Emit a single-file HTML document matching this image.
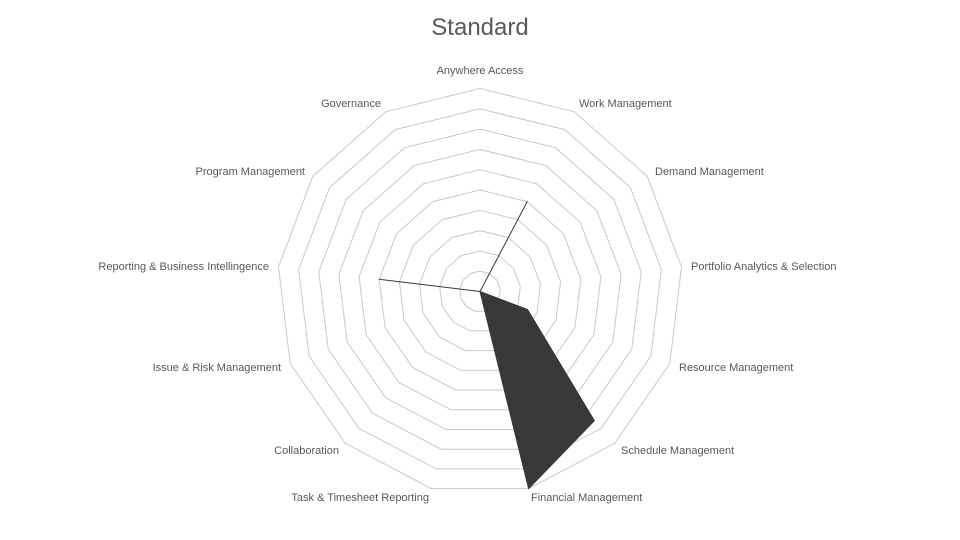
<!DOCTYPE html>
<html><head><meta charset="utf-8"><style>
html,body{margin:0;padding:0;background:#fff;}
svg{display:block;font-family:"Liberation Sans",sans-serif;}
text{fill:#595959;font-size:11px;}
</style></head><body>
<svg id="s" width="960" height="540" viewBox="0 0 960 540">
<text x="480" y="35" text-anchor="middle" style="font-size:24px;fill:#595959">Standard</text>
<g id="grid" fill="none" stroke="#c8c8c8" stroke-width="1"></g>
<path id="data" fill="#383838" stroke="#383838" stroke-width="1" stroke-linejoin="round"></path>
<text x="480" y="74" text-anchor="middle">Anywhere Access</text>
<text x="579" y="107">Work Management</text>
<text x="655" y="175">Demand Management</text>
<text x="691" y="270">Portfolio Analytics &amp; Selection</text>
<text x="679" y="371">Resource Management</text>
<text x="621" y="454">Schedule Management</text>
<text x="531" y="501">Financial Management</text>
<text x="429" y="501" text-anchor="end">Task &amp; Timesheet Reporting</text>
<text x="339" y="454" text-anchor="end">Collaboration</text>
<text x="281" y="371" text-anchor="end">Issue &amp; Risk Management</text>
<text x="269" y="270" text-anchor="end">Reporting &amp; Business Intellingence</text>
<text x="305" y="175" text-anchor="end">Program Management</text>
<text x="381" y="107" text-anchor="end">Governance</text>
</svg>
<script>
var cx=480,cy=291.5,R=203,N=13,g=document.getElementById('grid');
function pt(i,r){var a=i*2*Math.PI/N;return [cx+r*Math.sin(a),cy-r*Math.cos(a)];}
for(var k=1;k<=10;k++){var p=[];for(var i=0;i<N;i++){var q=pt(i,R*k/10);p.push(q[0].toFixed(1)+','+q[1].toFixed(1));}
var e=document.createElementNS('http://www.w3.org/2000/svg','polygon');e.setAttribute('points',p.join(' '));g.appendChild(e);}
var v=[0,5,0,0,2.5,8.5,10,0,0,0,5,0,0],d='';
for(var i=0;i<N;i++){var q=pt(i,R*v[i]/10);d+=(i?'L':'M')+q[0].toFixed(1)+','+q[1].toFixed(1);}
document.getElementById('data').setAttribute('d',d+'Z');
</script>
</body></html>
